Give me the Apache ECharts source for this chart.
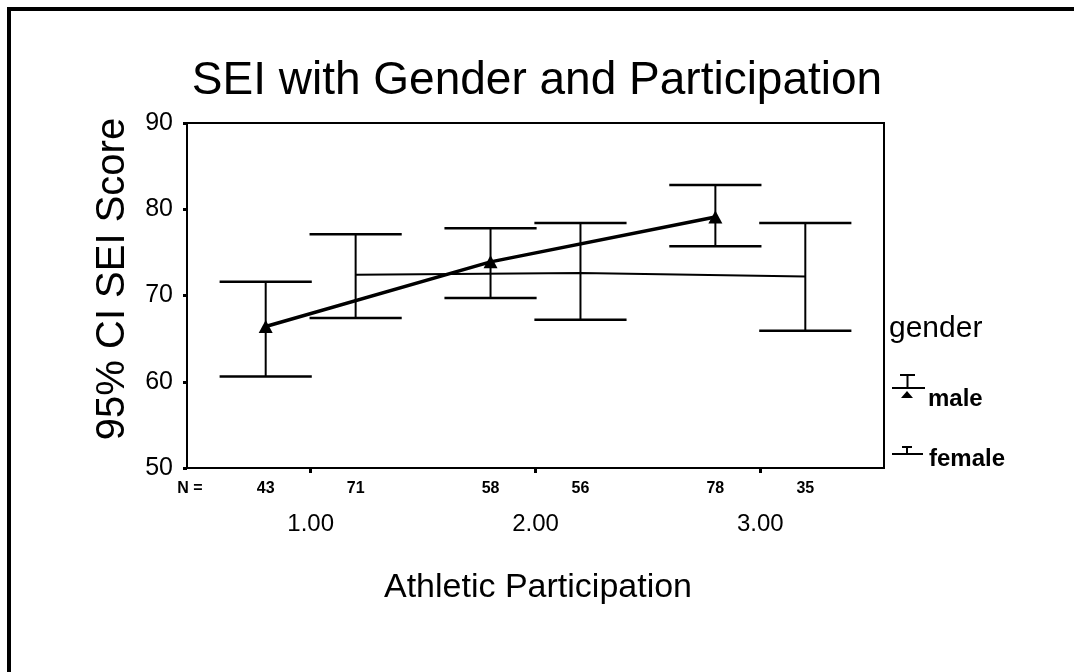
<!DOCTYPE html>
<html><head><meta charset="utf-8">
<script src="https://cdn.jsdelivr.net/npm/echarts@6/dist/echarts.min.js"></script>
<style>html,body{margin:0;padding:0;background:#fff}#c{width:1074px;height:672px}</style>
</head><body><div id="c"></div>
<script>
// ---- data ----
const categories = [1, 2, 3];
const categoryLabels = ['1.00', '2.00', '3.00'];
const seriesNames = ['male', 'female'];
const maleMean = [66.4, 73.9, 79.1];
const maleLower = [60.6, 69.7, 75.7];
const maleUpper = [71.6, 77.8, 82.8];
const femaleMean = [72.4, 72.6, 72.2];
const femaleLower = [67.4, 67.2, 65.9];
const femaleUpper = [77.1, 78.4, 78.4];
const maleN = [43, 58, 78];
const femaleN = [71, 56, 35];
const yMin = 50, yMax = 90, yStep = 10;

const FONT = "'Liberation Sans', Arial, sans-serif";
const OFFSET = 0.2, CAP = 0.205;

const malePos = categories.map(c => c - OFFSET);
const femalePos = categories.map(c => c + OFFSET);

function errData(pos, lo, hi) { return pos.map((p, i) => [p, lo[i], hi[i]]); }
function errRender(params, api) {
  const x = api.value(0);
  const lo = api.coord([x, api.value(1)]);
  const hi = api.coord([x, api.value(2)]);
  const hw = api.size([CAP, 0])[0];
  const st = { stroke: '#000', lineWidth: 2.5 };
  return { type: 'group', children: [
    { type: 'line', shape: { x1: lo[0], y1: lo[1], x2: hi[0], y2: hi[1] }, style: { stroke: '#000', lineWidth: 2 } },
    { type: 'line', shape: { x1: lo[0] - hw, y1: lo[1], x2: lo[0] + hw, y2: lo[1] }, style: st },
    { type: 'line', shape: { x1: hi[0] - hw, y1: hi[1], x2: hi[0] + hw, y2: hi[1] }, style: st }
  ]};
}
function nRender(params, api) {
  const p = api.coord([api.value(0), yMin]);
  return { type: 'text', x: p[0], y: p[1] + 21,
    style: { text: String(api.value(1)), fill: '#000', font: 'bold 16px ' + FONT, align: 'center', verticalAlign: 'middle' } };
}

const chart = echarts.init(document.getElementById('c'), null, { renderer: 'canvas' });
chart.setOption({
  backgroundColor: '#fff',
  animation: false,
  title: { text: 'SEI with Gender and Participation', left: 'center', top: 53,
    textStyle: { fontFamily: FONT, fontSize: 46, fontWeight: 'normal', color: '#000' } },
  grid: { left: 187, right: 190, top: 123, bottom: 204, show: true, borderColor: '#000', borderWidth: 2 },
  xAxis: {
    type: 'value', min: 0.45, max: 3.55,
    axisLine: { lineStyle: { color: '#000', width: 2 } },
    axisTick: { customValues: categories, length: 5, lineStyle: { color: '#000', width: 3 } },
    axisLabel: { customValues: categories, formatter: v => categoryLabels[categories.indexOf(Math.round(v))] || '',
      margin: 44, fontFamily: FONT, fontSize: 24, color: '#000' },
    splitLine: { show: false }
  },
  yAxis: {
    type: 'value', min: yMin, max: yMax, interval: yStep,
    axisLine: { show: true, lineStyle: { color: '#000', width: 2 } },
    axisTick: { show: true, length: 4, lineStyle: { color: '#000', width: 3 } },
    axisLabel: { fontFamily: FONT, fontSize: 25, color: '#000', margin: 14 },
    splitLine: { show: false }
  },
  series: [
    { name: seriesNames[0], type: 'custom', renderItem: errRender, data: errData(malePos, maleLower, maleUpper), z: 3 },
    { name: seriesNames[1], type: 'custom', renderItem: errRender, data: errData(femalePos, femaleLower, femaleUpper), z: 3 },
    { name: seriesNames[0], type: 'line', data: malePos.map((p, i) => [p, maleMean[i]]),
      lineStyle: { color: '#000', width: 3.5 }, itemStyle: { color: '#000' },
      symbol: 'triangle', symbolSize: [14, 13], showSymbol: true, z: 4 },
    { name: seriesNames[1], type: 'line', data: femalePos.map((p, i) => [p, femaleMean[i]]),
      lineStyle: { color: '#000', width: 2 }, itemStyle: { color: '#000' }, showSymbol: false, symbol: 'none', z: 4 },
    { type: 'custom', renderItem: nRender, silent: true,
      data: malePos.map((p, i) => [p, maleN[i]]).concat(femalePos.map((p, i) => [p, femaleN[i]])) }
  ],
  graphic: [
    { type: 'line', shape: { x1: 7, y1: 9, x2: 1074, y2: 9 }, style: { stroke: '#000', lineWidth: 4 } },
    { type: 'line', shape: { x1: 9, y1: 7, x2: 9, y2: 672 }, style: { stroke: '#000', lineWidth: 4 } },
    { type: 'text', x: 113, y: 279, rotation: Math.PI / 2,
      style: { text: '95% CI SEI Score', font: '40px ' + FONT, fill: '#000', align: 'center', verticalAlign: 'middle' } },
    { type: 'text', x: 538, y: 588,
      style: { text: 'Athletic Participation', font: '34px ' + FONT, fill: '#000', align: 'center', verticalAlign: 'middle' } },
    { type: 'text', x: 190, y: 489,
      style: { text: 'N =', font: 'bold 16px ' + FONT, fill: '#000', align: 'center', verticalAlign: 'middle' } },
    // legend
    { type: 'text', x: 889, y: 329,
      style: { text: 'gender', font: '30px ' + FONT, fill: '#000', align: 'left', verticalAlign: 'middle' } },
    { type: 'line', shape: { x1: 900, y1: 375, x2: 915, y2: 375 }, style: { stroke: '#000', lineWidth: 2 } },
    { type: 'line', shape: { x1: 907.5, y1: 375, x2: 907.5, y2: 388 }, style: { stroke: '#000', lineWidth: 2 } },
    { type: 'line', shape: { x1: 892, y1: 388, x2: 925, y2: 388 }, style: { stroke: '#000', lineWidth: 2 } },
    { type: 'polygon', shape: { points: [[907, 391], [913, 398], [901, 398]] }, style: { fill: '#000' } },
    { type: 'text', x: 928, y: 399,
      style: { text: 'male', font: 'bold 24px ' + FONT, fill: '#000', align: 'left', verticalAlign: 'middle' } },
    { type: 'line', shape: { x1: 902, y1: 447, x2: 912, y2: 447 }, style: { stroke: '#000', lineWidth: 2 } },
    { type: 'line', shape: { x1: 907, y1: 447, x2: 907, y2: 454 }, style: { stroke: '#000', lineWidth: 2 } },
    { type: 'line', shape: { x1: 892, y1: 454, x2: 923, y2: 454 }, style: { stroke: '#000', lineWidth: 2 } },
    { type: 'text', x: 929, y: 459,
      style: { text: 'female', font: 'bold 24px ' + FONT, fill: '#000', align: 'left', verticalAlign: 'middle' } }
  ]
});
</script>
</body></html>
